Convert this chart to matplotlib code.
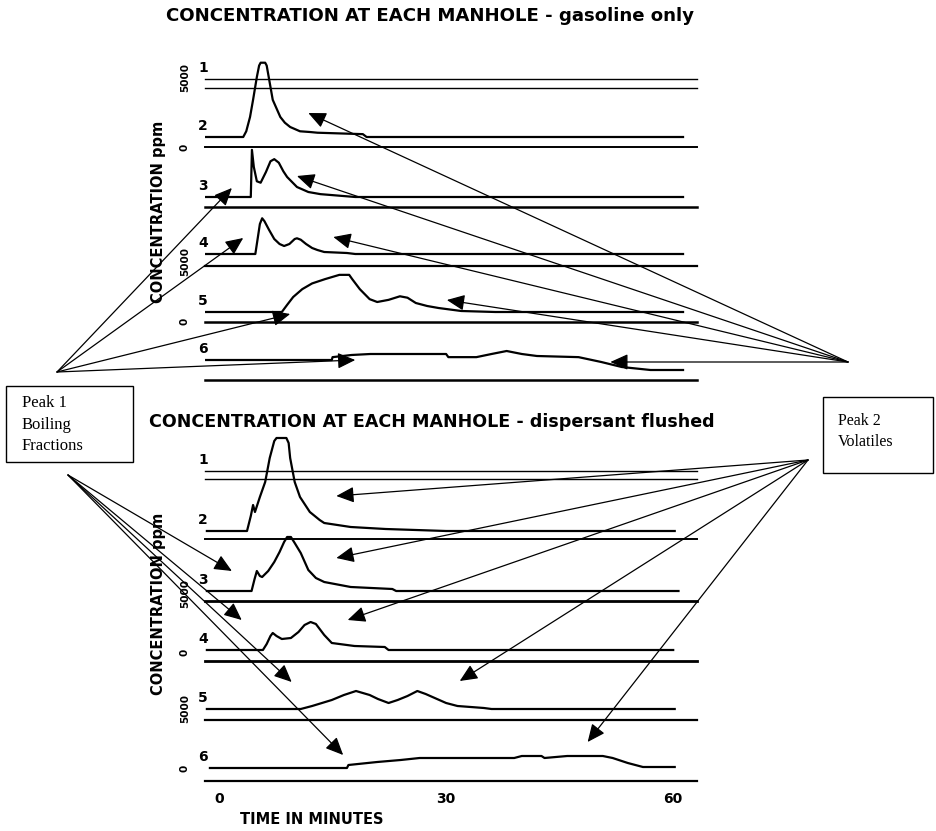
import matplotlib
matplotlib.use("Agg")
import matplotlib.pyplot as plt
from matplotlib.patches import Rectangle

# ---------------- data: time (minutes) and concentration deflection (ppm) ----------------
# Panel A: gasoline only (manholes 2-6; manhole 1 shows no signal)
gas2_t = [-1.7, 3.2, 3.6, 4.1, 4.5, 5.0, 5.3, 5.5, 6.1, 6.3, 6.7, 7.1, 7.6, 8.1, 8.7, 9.4, 10.7, 12.0, 13.0, 19.0, 19.5, 61.3]
gas2_c = [0, 0, 400, 1400, 2600, 4200, 5000, 5200, 5200, 5000, 3800, 2600, 2000, 1400, 1000, 700, 400, 350, 300, 200, 0, 0]
gas3_t = [-1.7, 4.2, 4.35, 4.6, 5.0, 5.5, 6.2, 6.8, 7.3, 7.9, 8.5, 9.0, 10.3, 11.8, 13.4, 16.4, 18.0, 61.3]
gas3_c = [0, 0, 3300, 2100, 1100, 1000, 1750, 2500, 2650, 2400, 1800, 1400, 700, 350, 200, 70, 0, 0]
gas4_t = [-1.7, 4.8, 5.1, 5.4, 5.7, 6.0, 6.6, 7.3, 8.0, 8.6, 9.3, 10.0, 10.3, 10.8, 11.5, 12.3, 13.0, 13.9, 16.9, 18.0, 61.3]
gas4_c = [0, 0, 1050, 2100, 2500, 2300, 1700, 1050, 700, 560, 700, 1050, 1100, 1000, 700, 420, 280, 140, 70, 0, 0]
gas5_t = [-1.7, 8.3, 9.0, 9.8, 11.0, 12.3, 14.0, 15.9, 17.2, 17.6, 18.6, 19.9, 20.9, 22.4, 23.9, 24.9, 26.0, 27.5, 29.0, 32.0, 36.5, 61.3]
gas5_c = [0, 0, 500, 1050, 1600, 2000, 2300, 2600, 2600, 2300, 1600, 900, 700, 850, 1100, 1000, 630, 420, 280, 70, 0, 0]
gas6_t = [-1.7, 14.9, 15.0, 17.5, 20.0, 24.0, 30.0, 30.3, 34.0, 36.0, 38.0, 40.0, 42.0, 47.5, 50.5, 53.2, 57.0, 61.3]
gas6_c = [700, 700, 900, 1050, 1120, 1120, 1120, 900, 900, 1120, 1330, 1120, 980, 900, 560, 210, 0, 0]

# Panel B: dispersant flushed
dis2_t = [-1.6, 3.7, 4.2, 4.5, 4.75, 5.4, 6.1, 6.7, 7.3, 7.6, 8.9, 9.2, 9.4, 10.0, 10.7, 12.0, 13.3, 13.9, 17.4, 22.0, 30.0, 60.2]
dis2_c = [0, 0, 1050, 1820, 1330, 2380, 3430, 5110, 6300, 6510, 6510, 6160, 5110, 3430, 2380, 1330, 770, 560, 280, 140, 0, 0]
dis3_t = [-1.6, 4.3, 4.7, 5.0, 5.4, 5.7, 6.5, 7.3, 8.0, 8.6, 9.0, 9.5, 10.0, 10.8, 11.8, 12.8, 13.9, 17.4, 22.9, 23.4, 60.7]
dis3_c = [0, 0, 840, 1400, 1050, 980, 1400, 2030, 2730, 3430, 3780, 3780, 3360, 2660, 1470, 910, 630, 280, 140, 0, 0]
dis4_t = [-1.6, 5.8, 6.3, 6.8, 7.1, 7.6, 8.3, 9.5, 10.5, 11.3, 12.1, 12.8, 13.4, 13.9, 14.9, 17.9, 21.9, 22.4, 60.0]
dis4_c = [0, 0, 420, 980, 1190, 980, 770, 840, 1260, 1750, 1960, 1820, 1400, 1050, 490, 280, 210, 0, 0]
dis5_t = [-1.6, 10.8, 12.3, 14.9, 16.5, 18.1, 19.9, 21.0, 22.4, 23.6, 24.9, 26.2, 27.3, 28.5, 30.0, 31.5, 35.0, 36.0, 60.2]
dis5_c = [0, 0, 210, 630, 980, 1260, 980, 700, 420, 630, 910, 1260, 1050, 770, 420, 210, 70, 0, 0]
dis6_t = [-1.2, 16.9, 17.1, 20.9, 24.0, 26.5, 39.0, 40.0, 42.6, 43.0, 46.0, 50.7, 52.0, 54.0, 56.0, 60.2]
dis6_c = [0, 0, 210, 420, 560, 700, 700, 840, 840, 700, 840, 840, 700, 350, 70, 70]

manholes = ["1", "2", "3", "4", "5", "6"]
time_ticks = [0, 30, 60]
time_tick_labels = ["0", "30", "60"]

# ---------------- layout ----------------
W, H = 936, 831
fig = plt.figure(figsize=(W / 100, H / 100), dpi=100)
fig.patch.set_facecolor("white")
SANS = "DejaVu Sans"
SERIF = "Liberation Serif"

PX_PER_MIN = 7.57
T0_PX = 219
PPM_PER_PX = 70.0
REC_START, REC_END = -1.8, 63.2     # span of the recorder reference lines (min)


def make_panel(top_px, bot_px, base0_px):
    l_px, r_px = 200, 700
    ax = fig.add_axes([l_px / W, 1 - bot_px / H, (r_px - l_px) / W, (bot_px - top_px) / H])
    ax.set_xlim((l_px - T0_PX) / PX_PER_MIN, (r_px - T0_PX) / PX_PER_MIN)
    ax.set_ylim((base0_px - bot_px) * PPM_PER_PX, (base0_px - top_px) * PPM_PER_PX)
    for s in ax.spines.values():
        s.set_visible(False)
    ax.set_yticks([])
    ax.set_xticks([])
    ax.patch.set_alpha(0)
    return ax


def draw_panel(ax, offsets, gaps, traces, ref_lw):
    # manhole 1: flat line + reference line
    ax.plot([REC_START, REC_END], [offsets[0]] * 2, color="black", lw=1.0, clip_on=False)
    ax.plot([REC_START, REC_END], [offsets[0] - gaps[0]] * 2, color="black", lw=1.0, clip_on=False)
    ax.text(-2.1, offsets[0] + 780, manholes[0], ha="center", va="center",
            fontsize=10, fontweight="bold", family=SANS)
    for i, (t, c) in enumerate(traces, start=1):
        off = offsets[i]
        ax.plot(t, [off + v for v in c], color="black", lw=1.6, clip_on=False,
                solid_joinstyle="round")
        ax.plot([REC_START, REC_END], [off - gaps[i]] * 2, color="black", lw=ref_lw[i],
                clip_on=False)
        ax.text(-2.1, off + c[0] + 780, manholes[i], ha="center", va="center",
                fontsize=10, fontweight="bold", family=SANS)


def yscale_labels(ax, entries):
    for lab, y in entries:
        ax.text(-4.5, y, lab, rotation=90, ha="center", va="center",
                fontsize=7.5, fontweight="bold", family=SANS, clip_on=False)


ARROW = dict(arrowstyle="-|>,head_length=0.6,head_width=0.27", color="black",
             lw=0.9, mutation_scale=18, shrinkA=0, shrinkB=0)


def arrows(ax, origin_px, tips):
    fx, fy = origin_px[0] / W, 1 - origin_px[1] / H
    for (t, y) in tips:
        ax.annotate("", xy=(t, y), xycoords="data", xytext=(fx, fy),
                    textcoords="figure fraction", arrowprops=ARROW, annotation_clip=False)


# ---- panel A ----
axA = make_panel(40, 395, 79)
offA = [0, -4060, -8260, -12250, -16310, -20370]
gapA = [630, 700, 700, 840, 700, 700]
draw_panel(axA, offA, gapA,
           [(gas2_t, gas2_c), (gas3_t, gas3_c), (gas4_t, gas4_c), (gas5_t, gas5_c), (gas6_t, gas6_c)],
           [1.0, 1.4, 1.8, 1.6, 1.8, 1.8])
yscale_labels(axA, [("5000", 140), ("0", -4760), ("5000", -12770), ("0", -16970)])
axA.text(-8.0, -9300, "CONCENTRATION ppm", rotation=90, ha="center", va="center",
         fontsize=10.5, fontweight="bold", family=SANS, clip_on=False)

# ---- panel B ----
axB = make_panel(430, 784, 471)
offB = [0, -4200, -8400, -12530, -16660, -20790]
gapB = [560, 560, 700, 770, 770, 910]
draw_panel(axB, offB, gapB,
           [(dis2_t, dis2_c), (dis3_t, dis3_c), (dis4_t, dis4_c), (dis5_t, dis5_c), (dis6_t, dis6_c)],
           [1.0, 1.4, 2.0, 2.0, 1.6, 1.6])
yscale_labels(axB, [("5000", -8540), ("0", -12670), ("5000", -16590), ("0", -20790)])
axB.text(-8.0, -9300, "CONCENTRATION ppm", rotation=90, ha="center", va="center",
         fontsize=10.5, fontweight="bold", family=SANS, clip_on=False)

axB.set_xticks(time_ticks)
axB.set_xticklabels(time_tick_labels, fontsize=10, fontweight="bold", family=SANS)
axB.tick_params(axis="x", length=0, pad=6)
axB.set_xlabel("TIME IN MINUTES", fontsize=10.5, fontweight="bold", family=SANS)
axB.xaxis.set_label_coords((312 - 200) / 500, -(812 - 784) / 354)

# titles
fig.text(430 / W, 1 - 16 / H, "CONCENTRATION AT EACH MANHOLE - gasoline only",
         ha="center", va="center", fontsize=13.1, fontweight="bold", family=SANS)
fig.text(432 / W, 1 - 422 / H, "CONCENTRATION AT EACH MANHOLE - dispersant flushed",
         ha="center", va="center", fontsize=12.6, fontweight="bold", family=SANS)

# annotation arrows (tips in panel data coordinates: minutes, ppm offset)
arrows(axA, (848, 362), [(11.8, -2380), (10.3, -6790), (15.1, -11060), (30.1, -15470), (51.7, -19810)])
arrows(axA, (57, 372), [(1.7, -7630), (3.2, -11130), (9.4, -16450), (18.0, -19670)])
arrows(axB, (808, 460), [(15.5, -1750), (15.5, -6090), (17.0, -10430), (31.8, -14700), (48.7, -18970)])
arrows(axB, (68, 475), [(1.7, -7000), (3.0, -10430), (9.6, -14770), (16.4, -19880)])

# annotation boxes
def box(x0, y0, x1, y1, lines, tx, ty0, dy, fs):
    fig.patches.append(Rectangle((x0 / W, 1 - y1 / H), (x1 - x0) / W, (y1 - y0) / H,
                                 transform=fig.transFigure, fill=True, facecolor="white",
                                 edgecolor="black", lw=1.0, zorder=5))
    for k, s in enumerate(lines):
        fig.text(tx / W, 1 - (ty0 + k * dy) / H, s, ha="left", va="center",
                 fontsize=fs, family=SERIF, zorder=6)

box(6, 386, 133, 462, ["Peak 1", "Boiling", "Fractions"], 22, 403, 21.5, 12)
box(823, 397, 933, 473, ["Peak 2", "Volatiles"], 838, 421, 21.5, 11.5)

fig.savefig("out.png", dpi=100, facecolor="white")
